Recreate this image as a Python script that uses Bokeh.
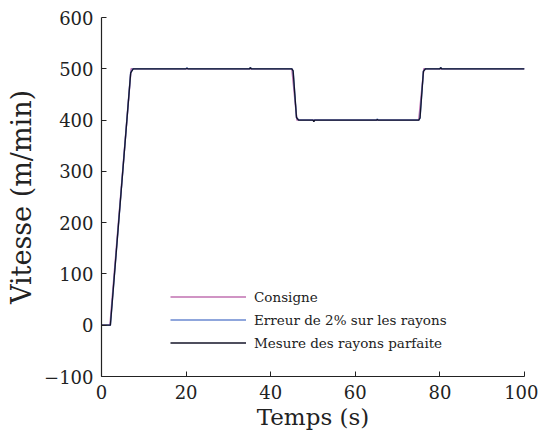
from bokeh.plotting import figure
from bokeh.models import Range1d, Legend, LegendItem, FixedTicker
from bokeh.embed import file_html
from bokeh.resources import INLINE

# Consigne (setpoint)
t_cons = [0, 2, 7.0, 45.0, 46.2, 75.0, 76.2, 100]
v_cons = [0, 0, 500, 500, 400, 400, 500, 500]

# Erreur de 2% sur les rayons
t_err = [0, 2.1, 6.9, 7.4, 20.0, 20.2, 20.4, 35.0, 35.2, 35.4, 45.0, 45.3, 46.1, 46.6,
         50.0, 50.2, 50.4, 65.0, 65.2, 65.4, 75.0, 75.3, 76.1, 76.6, 80.0, 80.2, 80.4, 100]
v_err = [0, 0, 493, 500, 500, 502, 500, 500, 503, 500, 500, 496, 405, 400,
         400, 398, 400, 400, 402, 400, 400, 404, 495, 500, 500, 503, 500, 500]

# Mesure des rayons parfaite
t_mes = [0, 2.1, 6.9, 7.5, 20.0, 20.2, 20.4, 35.0, 35.2, 35.4, 45.0, 45.3, 46.1, 46.6,
         50.0, 50.2, 50.4, 65.0, 65.2, 65.4, 75.0, 75.3, 76.1, 76.6, 80.0, 80.2, 80.4, 100]
v_mes = [0, 0, 492, 500, 500, 501, 500, 500, 502, 500, 500, 496, 405, 400,
         400, 397, 400, 400, 401, 400, 400, 404, 495, 500, 500, 502, 500, 500]

x_ticks = [0, 20, 40, 60, 80, 100]
y_ticks = [-100, 0, 100, 200, 300, 400, 500, 600]

FONT = "DejaVu Serif"
INK = "#222222"

p = figure(frame_width=423, frame_height=359, output_backend="svg", toolbar_location=None,
           x_range=Range1d(0, 100), y_range=Range1d(-100, 600),
           min_border_left=101, min_border_right=14, min_border_top=17, min_border_bottom=60)
p.outline_line_color = None
p.grid.visible = False

r1 = p.line(t_cons, v_cons, line_color="#c070b0", line_width=1.5)
r2 = p.line(t_err, v_err, line_color="#6a88d0", line_width=1.5)
r3 = p.line(t_mes, v_mes, line_color="#141428", line_width=1.3)

for ax in (p.xaxis[0], p.yaxis[0]):
    ax.major_label_text_font = FONT
    ax.major_label_text_font_size = "18px"
    ax.major_label_text_color = INK
    ax.axis_label_text_font = FONT
    ax.axis_label_text_font_style = "normal"
    ax.axis_label_text_color = INK
    ax.axis_line_color = INK
    ax.axis_line_width = 1.2
    ax.major_tick_line_color = INK
    ax.major_tick_in = 5
    ax.major_tick_out = 0
    ax.minor_tick_line_color = None

p.xaxis[0].ticker = FixedTicker(ticks=x_ticks)
p.yaxis[0].ticker = FixedTicker(ticks=y_ticks)
p.xaxis[0].axis_label = "Temps (s)"
p.yaxis[0].axis_label = "Vitesse (m/min)"
p.xaxis[0].axis_label_text_font_size = "23px"
p.yaxis[0].axis_label_text_font_size = "27px"
p.xaxis[0].axis_label_standoff = 2
p.yaxis[0].axis_label_standoff = 4
p.xaxis[0].major_label_standoff = 8
p.yaxis[0].major_label_standoff = 8

legend = Legend(items=[
    LegendItem(label="Consigne", renderers=[r1]),
    LegendItem(label="Erreur de 2% sur les rayons", renderers=[r2]),
    LegendItem(label="Mesure des rayons parfaite", renderers=[r3]),
], location=(69, 22))
legend.border_line_color = None
legend.background_fill_alpha = 0
legend.padding = 0
legend.margin = 0
legend.spacing = 0
legend.glyph_width = 76
legend.glyph_height = 23
legend.label_height = 23
legend.label_standoff = 8
legend.label_text_font = FONT
legend.label_text_font_size = "13.5px"
legend.label_text_color = INK
p.add_layout(legend)

open("out.html", "w").write(file_html(p, INLINE))
